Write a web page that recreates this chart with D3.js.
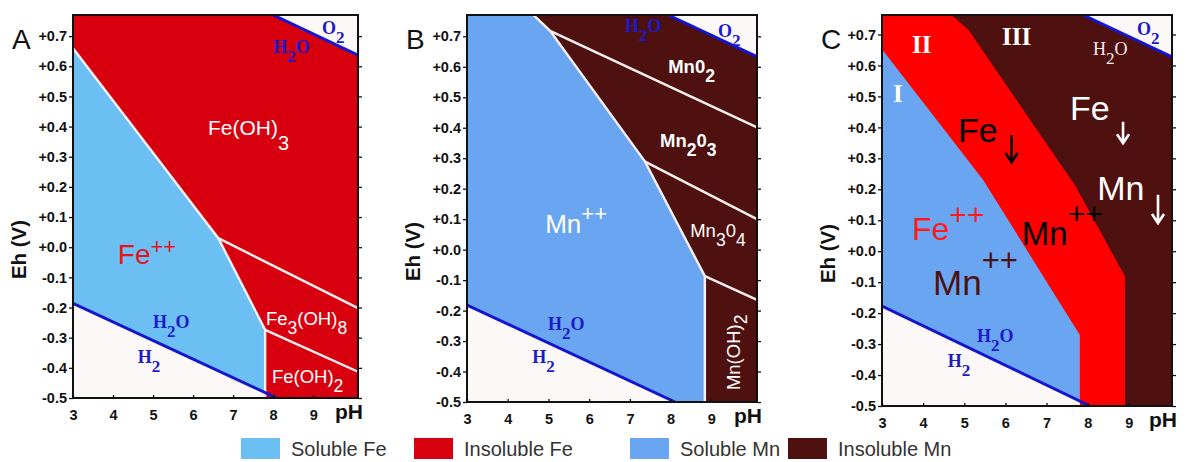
<!DOCTYPE html>
<html lang="en">
<head>
<meta charset="utf-8" />
<title>Eh-pH diagrams for Fe and Mn</title>
<script src="https://cdn.jsdelivr.net/npm/d3@7"></script>
<style>
  body { margin: 0; background: #fff; }
  svg { display: block; }
  .axis .domain { display: none; }
  .axis line { stroke: #111; stroke-width: 1.3px; }
  .axis text { font-family: "Liberation Sans", Arial, sans-serif; font-weight: bold; font-size: 14.5px; fill: #111; }
  .frame { fill: none; stroke: #111; stroke-width: 2px; }
  .edge { fill: none; stroke: #f6f0f0; stroke-width: 2.4px; }
  .water { fill: none; stroke: #1515cf; stroke-width: 3px; }
  .arrow { fill: none; stroke-width: 2.6px; }
  .legend text { font-family: "Liberation Sans", Arial, sans-serif; font-size: 20px; fill: #333; }
</style>
</head>
<body>
<script>
// ---- values (pH, Eh in volts) ----
const phTicks = [3, 4, 5, 6, 7, 8, 9];
const ehTicks = [-0.5, -0.4, -0.3, -0.2, -0.1, 0, 0.1, 0.2, 0.3, 0.4, 0.5, 0.6, 0.7];

// panel A : iron
const feEdgeA = [[3, 0.66], [6.63, 0.03], [7.80, -0.274], [7.80, -0.5]];
const fe3LineA = [[6.63, 0.03], [10.12, -0.202]];
const fe2LineA = [[7.80, -0.274], [10.12, -0.413]];
const o2LineA = [[8.0, 0.77], [10.12, 0.637]];
const h2LineA = [[3, -0.186], [8.09, -0.5]];

// panel B : manganese
const mnEdgeB = [[4.63, 0.77], [5.04, 0.718], [7.37, 0.289], [8.84, -0.087], [8.84, -0.5]];
const mnO2LineB = [[5.04, 0.718], [10.12, 0.401]];
const mn2O3LineB = [[7.37, 0.289], [10.12, 0.100]];
const mn3O4LineB = [[8.84, -0.087], [10.12, -0.165]];
const o2LineB = [[7.94, 0.77], [10.12, 0.633]];
const h2LineB = [[3, -0.182], [8.11, -0.5]];

// panel C : both together
const feEdgeC = [[3, 0.652], [5.46, 0.23], [7.81, -0.271], [7.81, -0.5]];
const mnEdgeC = [[4.69, 0.763], [5.10, 0.715], [7.69, 0.214], [8.91, -0.082], [8.91, -0.5]];
const o2LineC = [[7.89, 0.763], [10.05, 0.628]];
const h2LineC = [[3, -0.177], [8.06, -0.5]];

// labels: [pH, Eh, text, kind]   "_x" subscript, "^++" superscript
const labelsA = [
  [6.37, 0.372, "Fe(OH)_3", "chemL"],
  [4.12, -0.056, "Fe^++", "ionA"],
  [7.82, -0.258, "Fe_3(OH)_8", "chemS"],
  [7.97, -0.450, "Fe(OH)_2", "chemS"],
  [8.0, 0.644, "H_2O", "water"],
  [9.22, 0.707, "O_2", "water"],
  [5.0, -0.268, "H_2O", "water"],
  [4.62, -0.384, "H_2", "water"]
];
const labelsB = [
  [7.94, 0.580, "Mn0_2", "chemB"],
  [7.74, 0.337, "Mn_20_3", "chemB"],
  [4.92, 0.055, "Mn^++", "ionB"],
  [8.48, 0.041, "Mn_30_4", "chemS"],
  [9.70, -0.461, "Mn(OH)_2", "chemV"],
  [6.88, 0.714, "H_2O", "water"],
  [9.16, 0.698, "O_2", "water"],
  [4.99, -0.264, "H_2O", "water"],
  [4.60, -0.372, "H_2", "water"]
];
const labelsC = [
  [3.73, 0.640, "II", "roman"],
  [5.92, 0.666, "III", "roman"],
  [3.27, 0.482, "I", "roman"],
  [8.13, 0.634, "H_2O", "waterW"],
  [9.20, 0.698, "O_2", "water"],
  [4.85, 0.353, "Fe", "bigK"],
  [7.57, 0.424, "Fe", "bigW"],
  [8.23, 0.165, "Mn", "bigW"],
  [3.73, 0.036, "Fe^++", "ionR"],
  [6.40, 0.020, "Mn^++", "ionK"],
  [4.24, -0.141, "Mn^++", "ionM"],
  [5.31, -0.293, "H_2O", "water"],
  [4.60, -0.374, "H_2", "water"]
];
// arrows: [pH, Eh top, Eh bottom, kind]
const arrowsC = [
  [6.15, 0.375, 0.288, "bigK"],
  [8.86, 0.418, 0.349, "bigW"],
  [9.71, 0.182, 0.091, "bigW"]
];

const legendNames = ["Soluble Fe", "Insoluble Fe", "Soluble Mn", "Insoluble Mn"];

// ---- styles ----
const col = {
  feSol: "#6cbff3", feInsol: "#d8000f", mnSol: "#6aa5f1", mnInsol: "#4f1010",
  redC: "#ff0000", white: "#fdf8f8"
};
const sans = "'Liberation Sans', Arial, sans-serif";
const serif = "'Liberation Serif', 'Times New Roman', serif";
const styles = {
  chemL: { size: 21, fill: "#fff", sub: 15 },
  chemS: { size: 18.5, fill: "#fff", sub: 9 },
  chemB: { size: 18.5, fill: "#fff", weight: "bold", sub: 9 },
  chemV: { size: 18.5, fill: "#fff", sub: 7, rotate: -90 },
  ionA: { size: 28, fill: "#e0161e", supSize: 22, sup: -10 },
  ionB: { size: 26, fill: "#fff", supSize: 22, sup: -12 },
  water: { size: 18, fill: "#1b1bc9", family: serif, weight: "bold", sub: 9 },
  waterW: { size: 18, fill: "#f3eded", family: serif, sub: 9 },
  roman: { size: 25, fill: "#fff", family: serif, weight: "bold" },
  bigK: { size: 34, fill: "#000" },
  bigW: { size: 34, fill: "#fff" },
  ionR: { size: 32, fill: "#ff1a1a", supSize: 30, sup: -15 },
  ionK: { size: 33, fill: "#000", supSize: 30, sup: -21 },
  ionM: { size: 35, fill: "#4a1212", supSize: 31, sup: -24 }
};

const svg = d3.select("body").append("svg").attr("width", 1188).attr("height", 462);

function makePanel(id, box, xMax, yTop) {
  const x = d3.scaleLinear().domain([3, xMax]).range([box.left, box.right]);
  const y = d3.scaleLinear().domain([-0.5, yTop]).range([box.bottom, box.top]);
  const g = svg.append("g");
  g.append("clipPath").attr("id", "clip" + id).append("rect")
    .attr("x", box.left).attr("y", box.top)
    .attr("width", box.right - box.left).attr("height", box.bottom - box.top);
  const plot = g.append("g").attr("clip-path", `url(#clip${id})`);
  const line = d3.line().x(d => x(d[0])).y(d => y(d[1]));
  return { id, box, x, y, g, plot, line, xMax, yTop };
}

function yAt(pts, px) {
  for (let i = 1; i < pts.length; i++) {
    const [x0, y0] = pts[i - 1], [x1, y1] = pts[i];
    if (px >= x0 && px <= x1) return y0 + (y1 - y0) * (px - x0) / (x1 - x0);
  }
  return pts[pts.length - 1][1];
}

function fill(p, pts, color) {
  p.plot.append("path").attr("d", p.line(pts) + "Z").attr("fill", color);
}

function waters(p, low, high, cut) {
  // white area under the lower water line (left of the vertical edge) and above the upper one
  const end = Math.min(low[low.length - 1][0], cut);
  const pts = low.filter(d => d[0] < end);
  pts.push([end, yAt(low, end)], [end, -0.5], [3, -0.5]);
  fill(p, pts, col.white);
  fill(p, [...high, [p.xMax, p.yTop]], col.white);
}

function frameAndAxes(p, letter) {
  const b = p.box;
  const fmt = d => (d < -1e-9 ? "-" : "+") + Math.abs(d).toFixed(1);
  p.g.append("g").attr("class", "axis").attr("transform", `translate(${b.left},0)`)
    .call(d3.axisLeft(p.y).tickValues(ehTicks).tickFormat(fmt).tickSize(4).tickPadding(2));
  p.g.append("g").attr("class", "axis").attr("transform", `translate(${b.right},0)`)
    .call(d3.axisRight(p.y).tickValues(ehTicks).tickFormat("").tickSize(4));
  p.g.append("g").attr("class", "axis").attr("transform", `translate(0,${b.bottom})`)
    .call(d3.axisBottom(p.x).tickValues(phTicks).tickFormat(d3.format("d")).tickSize(-3).tickPadding(12));
  p.g.append("rect").attr("class", "frame")
    .attr("x", b.left).attr("y", b.top)
    .attr("width", b.right - b.left).attr("height", b.bottom - b.top);

  p.g.append("text").text(letter)
    .attr("x", b.left - 61).attr("y", b.top + 34)
    .attr("font-family", sans).attr("font-size", 28).attr("fill", "#111");
  p.g.append("text").text("pH")
    .attr("x", b.right - 23).attr("y", b.bottom + 21)
    .attr("font-family", sans).attr("font-weight", "bold").attr("font-size", 21).attr("fill", "#111");
  p.g.append("text").text("Eh (V)")
    .attr("transform", `translate(${b.left - 47},${(b.top + b.bottom) / 2 + 43}) rotate(-90)`)
    .attr("text-anchor", "middle")
    .attr("font-family", sans).attr("font-weight", "bold").attr("font-size", 20.5).attr("fill", "#111");
}

function drawLabels(p, labels) {
  labels.forEach(([ph, eh, str, kind]) => {
    const st = styles[kind];
    const t = p.g.append("text")
      .attr("font-family", st.family || sans)
      .attr("font-weight", st.weight || "normal")
      .attr("font-size", st.size)
      .attr("fill", st.fill);
    if (st.rotate) t.attr("transform", `translate(${p.x(ph)},${p.y(eh)}) rotate(${st.rotate})`);
    else t.attr("x", p.x(ph)).attr("y", p.y(eh));
    let shift = 0;
    for (const m of str.matchAll(/_([^_^])|\^(\+\+)|[^_^]+/g)) {
      let target = 0, txt = m[0], size = st.size;
      if (m[1]) { target = st.sub; txt = m[1]; size = st.size * 0.95; }
      else if (m[2]) { target = st.sup; txt = m[2]; size = st.supSize; }
      t.append("tspan").attr("dy", target - shift).attr("font-size", size).text(txt);
      shift = target;
    }
  });
}

// ---- panel A ----
const pA = makePanel("A", { left: 73, right: 358, top: 15, bottom: 398 }, 10.12, 0.77);
fill(pA, [[3, -0.5], [3, 0.77], [10.12, 0.77], [10.12, -0.5]], col.feInsol);
fill(pA, [...feEdgeA, [3, -0.5]], col.feSol);
waters(pA, h2LineA, o2LineA, feEdgeA[feEdgeA.length - 1][0]);
[feEdgeA, fe3LineA, fe2LineA].forEach(l => pA.plot.append("path").attr("class", "edge").attr("d", pA.line(l)));
[h2LineA, o2LineA].forEach(l => pA.plot.append("path").attr("class", "water").attr("d", pA.line(l)));
frameAndAxes(pA, "A");
drawLabels(pA, labelsA);

// ---- panel B ----
const pB = makePanel("B", { left: 467, right: 757, top: 15, bottom: 402 }, 10.12, 0.77);
fill(pB, [[3, -0.5], [3, 0.77], [10.12, 0.77], [10.12, -0.5]], col.mnInsol);
fill(pB, [[3, 0.77], ...mnEdgeB, [3, -0.5]], col.mnSol);
waters(pB, h2LineB, o2LineB, mnEdgeB[mnEdgeB.length - 1][0]);
[mnEdgeB, mnO2LineB, mn2O3LineB, mn3O4LineB].forEach(l => pB.plot.append("path").attr("class", "edge").attr("d", pB.line(l)));
[h2LineB, o2LineB].forEach(l => pB.plot.append("path").attr("class", "water").attr("d", pB.line(l)));
frameAndAxes(pB, "B");
drawLabels(pB, labelsB);

// ---- panel C ----
const pC = makePanel("C", { left: 882, right: 1172, top: 15, bottom: 406 }, 10.05, 0.763);
fill(pC, [[3, -0.5], [3, 0.763], [10.05, 0.763], [10.05, -0.5]], col.mnInsol);
fill(pC, [[3, 0.763], ...mnEdgeC, [3, -0.5]], col.redC);
fill(pC, [...feEdgeC, [3, -0.5]], col.mnSol);
waters(pC, h2LineC, o2LineC, feEdgeC[feEdgeC.length - 1][0]);
[h2LineC, o2LineC].forEach(l => pC.plot.append("path").attr("class", "water").attr("d", pC.line(l)));
frameAndAxes(pC, "C");
drawLabels(pC, labelsC);
arrowsC.forEach(([ph, top, bot, kind]) => {
  const ax = pC.x(ph), y0 = pC.y(top), y1 = pC.y(bot);
  pC.g.append("path").attr("class", "arrow").attr("stroke", styles[kind].fill)
    .attr("d", `M${ax},${y0}V${y1}M${ax - 6},${y1 - 9}L${ax},${y1}L${ax + 6},${y1 - 9}`);
});

// ---- legend ----
const legendColors = [col.feSol, col.feInsol, col.mnSol, col.mnInsol];
const legendX = [241, 414, 630, 788];
const legend = svg.append("g").attr("class", "legend");
legendNames.forEach((name, i) => {
  legend.append("rect").attr("x", legendX[i]).attr("y", 438)
    .attr("width", 39).attr("height", 21).attr("fill", legendColors[i]);
  legend.append("text").attr("x", legendX[i] + 50).attr("y", 456).text(name);
});
</script>
</body>
</html>
